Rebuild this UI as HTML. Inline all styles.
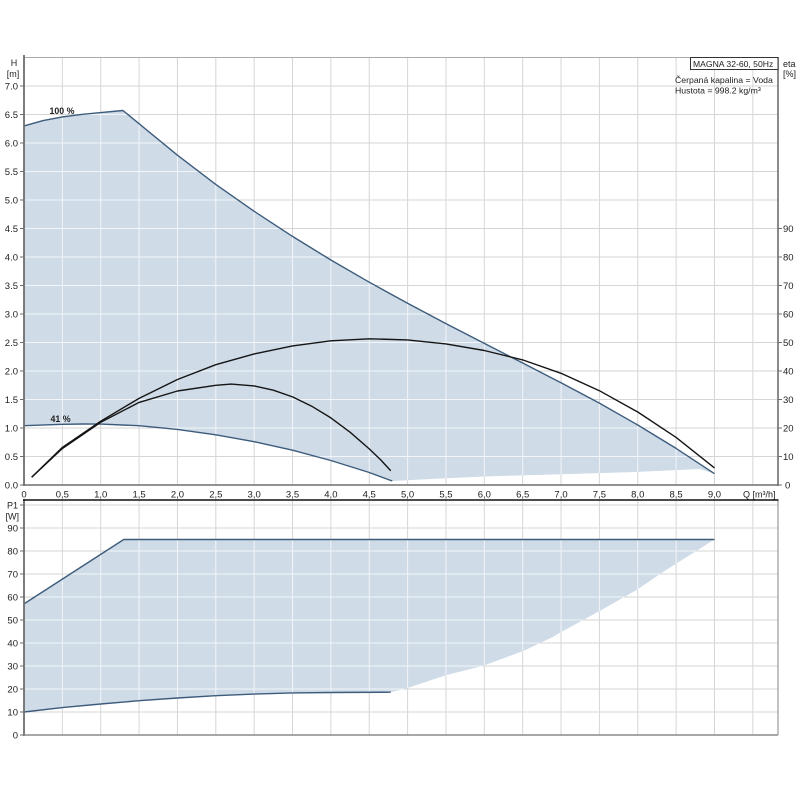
<!DOCTYPE html>
<html><head><meta charset="utf-8"><style>
html,body{margin:0;padding:0;background:#fff;}
svg{display:block;}
text{font-family:"Liberation Sans",Arial,sans-serif;fill:#222;}
</style></head><body>
<svg width="800" height="800" viewBox="0 0 800 800" xmlns="http://www.w3.org/2000/svg">
<defs>
<clipPath id="cTop"><polygon points="24,125.9 43.18,120.6 62.36,116.9 81.54,114.4 100.72,112.6 122.97,110.5 177.44,155.2 215.8,184.4 254.16,211.3 292.52,236.4 330.88,260 369.24,282.2 407.6,303.3 445.96,323.6 484.32,343.4 522.68,363 561.04,382.8 599.4,403.1 637.76,425 676.12,448.4 714.48,473.7 699.8,469 637.76,471.9 561.04,474.2 484.32,476.5 445.96,478.2 392.26,481 369.24,472.5 330.88,460.5 292.52,450.2 254.16,441.7 215.8,434.8 177.44,429.4 139.08,425.7 100.72,424.1 83.84,424 62.36,424.3 24,425.7"/></clipPath>
<clipPath id="cBot"><polygon points="24,603.9 123.74,539.5 714.48,539.5 663.3,571.7 636.7,590 600,610.7 561.7,631.7 553.3,636.7 523.3,651 483.3,665.7 446.7,675 406.7,688.3 390.72,692.2 330.88,692.5 292.52,692.9 254.16,694.1 215.8,695.7 177.44,698 139.08,700.7 100.72,704 62.36,707.6 24,712"/></clipPath>
<g id="vgridT">
<path d="M62.36 57.5V485M100.72 57.5V485M139.08 57.5V485M177.44 57.5V485M215.8 57.5V485M254.16 57.5V485M292.52 57.5V485M330.88 57.5V485M369.24 57.5V485M407.6 57.5V485M445.96 57.5V485M484.32 57.5V485M522.68 57.5V485M561.04 57.5V485M599.4 57.5V485M637.76 57.5V485M676.12 57.5V485M714.48 57.5V485M752.84 57.5V485"/>
<path d="M24 456.5H778M24 428H778M24 399.5H778M24 371H778M24 342.5H778M24 314H778M24 285.5H778M24 257H778M24 228.5H778M24 200H778M24 171.5H778M24 143H778M24 114.5H778M24 86H778"/>
</g>
<g id="vgridB">
<path d="M62.36 500V735M100.72 500V735M139.08 500V735M177.44 500V735M215.8 500V735M254.16 500V735M292.52 500V735M330.88 500V735M369.24 500V735M407.6 500V735M445.96 500V735M484.32 500V735M522.68 500V735M561.04 500V735M599.4 500V735M637.76 500V735M676.12 500V735M714.48 500V735M752.84 500V735"/>
<path d="M24 712H778M24 689H778M24 666H778M24 643H778M24 620H778M24 597H778M24 574H778M24 551H778M24 528H778M24 505H778"/>
</g>
</defs>

<!-- grids -->
<g stroke="#d6d6d6" stroke-width="1" fill="none">
<use href="#vgridT"/>
<use href="#vgridB"/>
</g>
<line x1="24" y1="57.5" x2="778" y2="57.5" stroke="#aaaaaa" stroke-width="1"/>

<!-- fills -->
<rect x="0" y="0" width="800" height="800" fill="#cfdbe7" clip-path="url(#cTop)"/>
<rect x="0" y="0" width="800" height="800" fill="#cfdbe7" clip-path="url(#cBot)"/>
<g stroke="#f2f5f9" stroke-width="1" fill="none">
<use href="#vgridT" clip-path="url(#cTop)"/>
<use href="#vgridB" clip-path="url(#cBot)"/>
</g>

<!-- H curves -->
<g fill="none" stroke="#3d5c7c" stroke-width="1.4" stroke-linejoin="round">
<polyline points="24,125.9 43.18,120.6 62.36,116.9 81.54,114.4 100.72,112.6 122.97,110.5 177.44,155.2 215.8,184.4 254.16,211.3 292.52,236.4 330.88,260 369.24,282.2 407.6,303.3 445.96,323.6 484.32,343.4 522.68,363 561.04,382.8 599.4,403.1 637.76,425 676.12,448.4 714.48,473.7"/>
<polyline points="24,425.7 62.36,424.3 83.84,424 100.72,424.1 139.08,425.7 177.44,429.4 215.8,434.8 254.16,441.7 292.52,450.2 330.88,460.5 369.24,472.5 392.26,481"/>
<polyline points="24,603.9 123.74,539.5 714.48,539.5"/>
<polyline points="24,712 62.36,707.6 100.72,704 139.08,700.7 177.44,698 215.8,695.7 254.16,694.1 292.52,692.9 330.88,692.5 390.72,692.2"/>
</g>
<!-- eta curves -->
<g fill="none" stroke="#151515" stroke-width="1.4" stroke-linejoin="round">
<polyline points="31.67,477.3 62.36,447.4 100.72,421.2 139.08,398.4 177.44,379.5 215.8,364.7 254.16,353.9 292.52,345.9 330.88,340.8 369.24,338.8 407.6,339.9 445.96,343.9 484.32,350.5 522.68,359.9 561.04,373.3 599.4,390.7 637.76,412 676.12,437.4 714.48,467.9"/>
<polyline points="31.67,477.3 62.36,448.5 100.72,422.3 139.08,402.4 177.44,391 215.8,385.3 231.14,384.1 254.16,385.9 273.34,390.2 292.52,396.9 311.7,406.2 330.88,417.9 350.06,432.2 369.24,448.9 380.75,459.9 390.72,470.75"/>
</g>

<!-- axes -->
<g fill="none">
<line x1="24" y1="55" x2="24" y2="486" stroke="#6e6e6e" stroke-width="1.8"/>
<line x1="23" y1="485" x2="778" y2="485" stroke="#6e6e6e" stroke-width="1.6"/>
<line x1="778" y1="57" x2="778" y2="486" stroke="#6e6e6e" stroke-width="1.6"/>
<line x1="24" y1="499" x2="24" y2="736" stroke="#6e6e6e" stroke-width="1.8"/>
<line x1="23" y1="735" x2="778" y2="735" stroke="#8a8a8a" stroke-width="1.6"/>
<line x1="778" y1="500" x2="778" y2="735" stroke="#9a9a9a" stroke-width="1.2"/>
<line x1="23" y1="500" x2="778.5" y2="500" stroke="#111" stroke-width="1.6"/>
<path stroke="#6e6e6e" stroke-width="1" d="M20 485H24M20 456.5H24M20 428H24M20 399.5H24M20 371H24M20 342.5H24M20 314H24M20 285.5H24M20 257H24M20 228.5H24M20 200H24M20 171.5H24M20 143H24M20 114.5H24M20 86H24"/>
<path stroke="#6e6e6e" stroke-width="1" d="M20 735H24M20 712H24M20 689H24M20 666H24M20 643H24M20 620H24M20 597H24M20 574H24M20 551H24M20 528H24M20 505H24"/>
<path stroke="#6e6e6e" stroke-width="1" d="M778 485H782M778 456.5H782M778 428H782M778 399.5H782M778 371H782M778 342.5H782M778 314H782M778 285.5H782M778 257H782M778 228.5H782"/>
</g>

<!-- legend box -->
<rect x="690.5" y="57.5" width="87.5" height="12" fill="#fff" stroke="#333" stroke-width="1"/>
<text x="693" y="67" font-size="8.6">MAGNA 32-60, 50Hz</text>
<text x="675" y="83" font-size="8.7">Čerpaná kapalina = Voda</text>
<text x="675" y="93.5" font-size="8.7">Hustota = 998.2 kg/m³</text>

<!-- axis titles -->
<g font-size="9">
<text x="14" y="66" text-anchor="middle">H</text>
<text x="13" y="77" text-anchor="middle">[m]</text>
<text x="783" y="67">eta</text>
<text x="783" y="77">[%]</text>
<text x="18" y="508.5" text-anchor="end">P1</text>
<text x="19" y="519.5" text-anchor="end">[W]</text>
<text x="743" y="497.5">Q [m³/h]</text>
</g>

<g font-size="9.5" text-anchor="end">
<text x="18" y="488.5">0.0</text>
<text x="18" y="460">0.5</text>
<text x="18" y="431.5">1.0</text>
<text x="18" y="403">1.5</text>
<text x="18" y="374.5">2.0</text>
<text x="18" y="346">2.5</text>
<text x="18" y="317.5">3.0</text>
<text x="18" y="289">3.5</text>
<text x="18" y="260.5">4.0</text>
<text x="18" y="232">4.5</text>
<text x="18" y="203.5">5.0</text>
<text x="18" y="175">5.5</text>
<text x="18" y="146.5">6.0</text>
<text x="18" y="118">6.5</text>
<text x="18" y="89.5">7.0</text>
</g>
<g font-size="9.5">
<text x="785" y="488.5">0</text>
<text x="783" y="460">10</text>
<text x="783" y="431.5">20</text>
<text x="783" y="403">30</text>
<text x="783" y="374.5">40</text>
<text x="783" y="346">50</text>
<text x="783" y="317.5">60</text>
<text x="783" y="289">70</text>
<text x="783" y="260.5">80</text>
<text x="783" y="232">90</text>
</g>
<g font-size="9.5" text-anchor="middle">
<text x="24" y="497.5">0</text>
<text x="62.36" y="497.5">0,5</text>
<text x="100.72" y="497.5">1,0</text>
<text x="139.08" y="497.5">1,5</text>
<text x="177.44" y="497.5">2,0</text>
<text x="215.8" y="497.5">2,5</text>
<text x="254.16" y="497.5">3,0</text>
<text x="292.52" y="497.5">3,5</text>
<text x="330.88" y="497.5">4,0</text>
<text x="369.24" y="497.5">4,5</text>
<text x="407.6" y="497.5">5,0</text>
<text x="445.96" y="497.5">5,5</text>
<text x="484.32" y="497.5">6,0</text>
<text x="522.68" y="497.5">6,5</text>
<text x="561.04" y="497.5">7,0</text>
<text x="599.4" y="497.5">7,5</text>
<text x="637.76" y="497.5">8,0</text>
<text x="676.12" y="497.5">8,5</text>
<text x="714.48" y="497.5">9,0</text>
</g>
<g font-size="9.5" text-anchor="end">
<text x="18" y="738.5">0</text>
<text x="18" y="715.5">10</text>
<text x="18" y="692.5">20</text>
<text x="18" y="669.5">30</text>
<text x="18" y="646.5">40</text>
<text x="18" y="623.5">50</text>
<text x="18" y="600.5">60</text>
<text x="18" y="577.5">70</text>
<text x="18" y="554.5">80</text>
<text x="18" y="531.5">90</text>
</g>

<text x="49.5" y="114" font-size="8.8" font-weight="bold">100 %</text>
<text x="50.5" y="422" font-size="8.8" font-weight="bold">41 %</text>
</svg>
</body></html>
